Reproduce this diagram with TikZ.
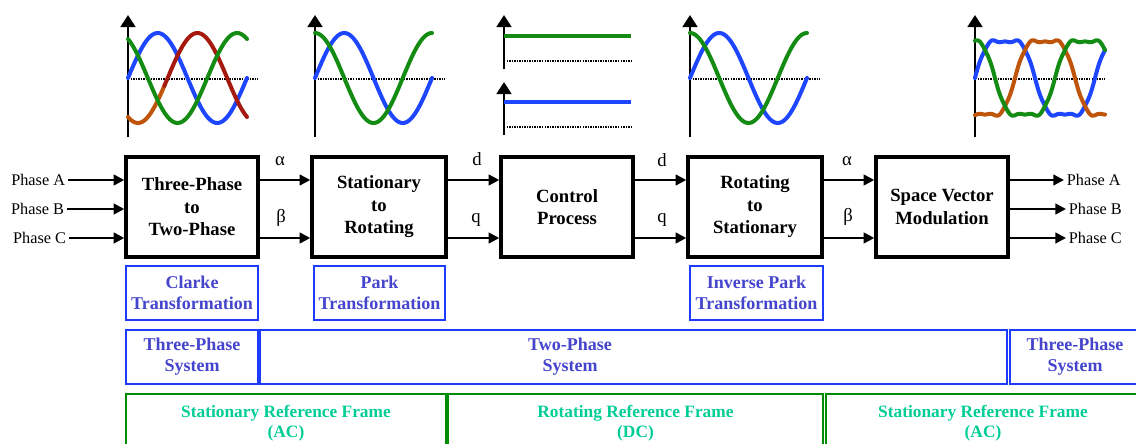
\documentclass[tikz,border=0pt]{standalone}
\usepackage{fontspec}
\setmainfont{Liberation Serif}
\usetikzlibrary{arrows.meta}
\definecolor{wblue}{RGB}{30,70,255}
\definecolor{wgreen}{RGB}{20,140,20}
\definecolor{wred}{RGB}{165,25,15}
\definecolor{wbrown}{RGB}{190,85,10}
\definecolor{bbord}{RGB}{30,60,255}
\definecolor{btext}{RGB}{68,68,205}
\definecolor{gbord}{RGB}{0,140,0}
\definecolor{gtext}{RGB}{0,205,150}
\begin{document}
\begin{tikzpicture}[x=0.75pt,y=-0.75pt,
 block/.style={draw,line width=2.6pt,minimum height=75pt,inner sep=0pt,align=center,font=\fontsize{14}{16.9}\selectfont\bfseries},
 arr/.style={line width=1.8pt,-{Triangle[length=8pt,width=8pt]}},
 io/.style={font=\fontsize{12.2}{14}\selectfont,inner sep=2pt},
 sig/.style={font=\fontsize{14}{16}\selectfont,inner sep=0pt},
 bbox/.style={draw=bbord,line width=1.9pt,minimum height=40.5pt,inner sep=0pt,align=center,text=btext,font=\fontsize{13.5}{15.5}\selectfont\bfseries},
 gbox/.style={draw=gbord,line width=2.2pt,minimum height=43.5pt,inner sep=0pt,align=center,text=gtext,font=\fontsize{13}{15}\selectfont\bfseries},
 wave/.style={line width=3pt,line cap=round,line join=round},
 axis/.style={line width=2pt,-{Triangle[length=9pt,width=11pt]}},
 zero/.style={line width=1.4pt,dash pattern=on 1.1pt off 0.8pt},
 level/.style={line width=3pt},
]
\clip (0,0) rectangle (1136,443);

% ---------- waveform 1 (three-phase) ----------
\draw[axis] (128,137) -- (128,15);
\draw[zero] (128,79) -- (258,79);
\draw[wave,wblue] plot[domain=0:360,samples=90] ({128+\x/360*119},{78-45*sin(\x)});
\draw[wave,wbrown] plot[domain=0:110,samples=30] ({128+\x/360*119},{78-45*sin(\x-120)});
\draw[wave,wred] plot[domain=110:360,samples=70] ({128+\x/360*119},{78-45*sin(\x-120)});
\draw[wave,wgreen] plot[domain=0:360,samples=90] ({128+\x/360*119},{78-45*sin(\x+120)});

% ---------- waveform 2 (alpha beta) ----------
\draw[axis] (315,137) -- (315,15);
\draw[zero] (315,79) -- (445,79);
\draw[wave,wblue] plot[domain=0:360,samples=90] ({315+\x/360*117},{78-45*sin(\x)});
\draw[wave,wgreen] plot[domain=0:360,samples=90] ({315+\x/360*117},{78-45*cos(\x)});

% ---------- waveform 3 (d q) ----------
\draw[axis] (504,69) -- (504,15);
\draw[zero] (504,61) -- (633,61);
\draw[level,wgreen] (504,36) -- (631,36);
\draw[axis] (504,135) -- (504,82);
\draw[zero] (504,127) -- (633,127);
\draw[level,wblue] (504,102) -- (631,102);

% ---------- waveform 4 (alpha beta) ----------
\draw[axis] (690,137) -- (690,15);
\draw[zero] (690,79) -- (820,79);
\draw[wave,wblue] plot[domain=0:360,samples=90] ({690+\x/360*117},{78-45*sin(\x)});
\draw[wave,wgreen] plot[domain=0:360,samples=90] ({690+\x/360*117},{78-45*cos(\x)});

% ---------- waveform 5 (SVM) ----------
\draw[axis] (975,137) -- (975,15);
\draw[zero] (975,79) -- (1105,79);
\draw[wave,wblue] plot[domain=0:390,samples=160] ({975+\x/3},{78-43*(sin(\x)+0.17*sin(3*\x)+0.02*sin(9*\x))});
\draw[wave,wbrown] plot[domain=0:390,samples=160] ({975+\x/3},{78-43*(sin(\x-120)+0.17*sin(3*\x-360)+0.02*sin(9*\x-1080))});
\draw[wave,wgreen] plot[domain=0:390,samples=160] ({975+\x/3},{78-43*(sin(\x+120)+0.17*sin(3*\x+360)+0.02*sin(9*\x+1080))});

% ---------- blocks ----------
\node[block,minimum width=99pt] (b1) at (192,207) {Three-Phase\\to\\Two-Phase};
\node[block,minimum width=100.5pt] (b2) at (379,207) {Stationary\\to\\Rotating};
\node[block,minimum width=99pt] (b3) at (567,207) {Control\\Process};
\node[block,minimum width=100.5pt] (b4) at (755,207) {Rotating\\to\\Stationary};
\node[block,minimum width=99pt] (b5) at (942,207) {Space Vector\\Modulation};

\coordinate (yA) at (0,180);
\coordinate (yB) at (0,209);
\coordinate (yC) at (0,238);

% inputs
\node[io,anchor=east] (inA) at (68,180) {Phase A};
\node[io,anchor=east] (inB) at (67,209) {Phase B};
\node[io,anchor=east] (inC) at (69,238) {Phase C};
\draw[arr] (inA.east) -- (b1.west|-yA);
\draw[arr] (inB.east) -- (b1.west|-yB);
\draw[arr] (inC.east) -- (b1.west|-yC);

% internal connectors
\draw[arr] (b1.east|-yA) -- (b2.west|-yA);
\draw[arr] (b1.east|-yC) -- (b2.west|-yC);
\draw[arr] (b2.east|-yA) -- (b3.west|-yA);
\draw[arr] (b2.east|-yC) -- (b3.west|-yC);
\draw[arr] (b3.east|-yA) -- (b4.west|-yA);
\draw[arr] (b3.east|-yC) -- (b4.west|-yC);
\draw[arr] (b4.east|-yA) -- (b5.west|-yA);
\draw[arr] (b4.east|-yC) -- (b5.west|-yC);

\node[sig] (la1) at (280,161) {α};
\node[sig] (lb1) at (281,218) {β};
\node[sig] (ld1) at (477,159) {d};
\node[sig] (lq1) at (476,220) {q};
\node[sig] (ld2) at (662,160) {d};
\node[sig] (lq2) at (662,220) {q};
\node[sig] (la2) at (847,161) {α};
\node[sig] (lb2) at (848,217) {β};

% outputs
\node[io,anchor=west] (outA) at (1064,180) {Phase A};
\node[io,anchor=west] (outB) at (1066,209) {Phase B};
\node[io,anchor=west] (outC) at (1066,238) {Phase C};
\draw[arr] (b5.east|-yA) -- (outA.west);
\draw[arr] (b5.east|-yB) -- (outB.west);
\draw[arr] (b5.east|-yC) -- (outC.west);

% ---------- transformation names ----------
\node[bbox,minimum width=99pt] (clarke) at (192,293) {Clarke\\Transformation};
\node[bbox,minimum width=98.25pt] (park) at (379.5,293) {Park\\Transformation};
\node[bbox,minimum width=99.75pt] (ipark) at (756.5,293) {Inverse Park\\Transformation};

% ---------- systems ----------
\node[bbox,minimum width=99pt] (sys1) at (192,357) {Three-Phase\\System};
\node[bbox,minimum width=560.25pt] (sys2) at (633.5,357) {};
\node[bbox,draw=none] (sys2t) at (570,357) {Two-Phase\\System};
\node[bbox,minimum width=97.5pt] (sys3) at (1075,357) {Three-Phase\\System};

% ---------- reference frames ----------
\node[gbox,minimum width=240pt] (rf1) at (286,423) {Stationary Reference Frame\\(AC)};
\node[gbox,minimum width=281.25pt] (rf2) at (635.5,423) {Rotating Reference Frame\\(DC)};
\node[gbox,minimum width=235.5pt] (rf3) at (983,423) {Stationary Reference Frame\\(AC)};
\end{tikzpicture}
\end{document}
